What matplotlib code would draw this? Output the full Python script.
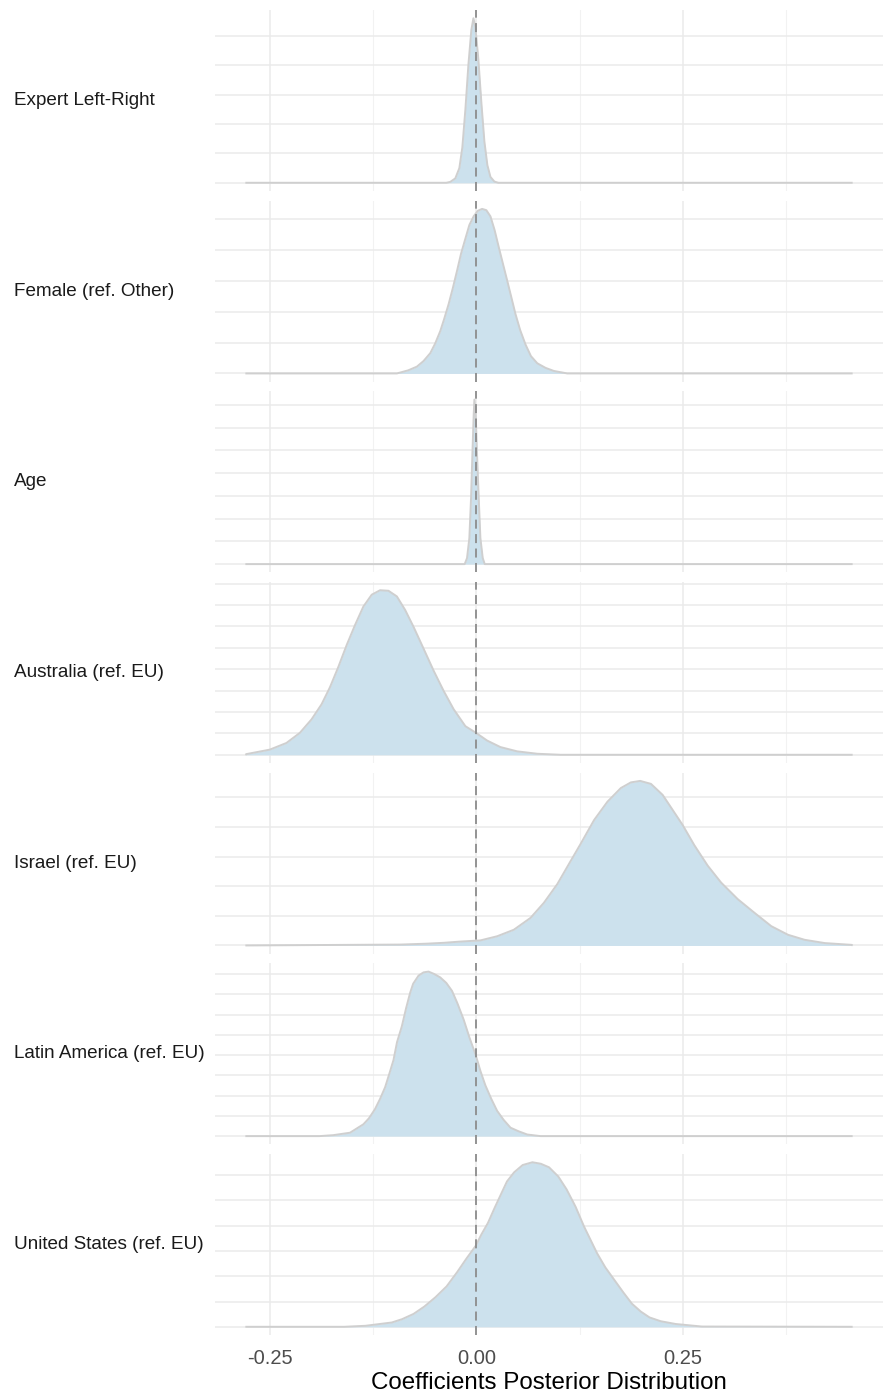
import matplotlib
matplotlib.use("Agg")
import matplotlib.pyplot as plt
from matplotlib.ticker import MultipleLocator

plt.rcParams['font.family'] = ['Liberation Sans', 'DejaVu Sans']

# coefficient names, top to bottom
labels = ['Expert Left-Right', 'Female (ref. Other)', 'Age', 'Australia (ref. EU)',
          'Israel (ref. EU)', 'Latin America (ref. EU)', 'United States (ref. EU)']

# posterior densities: x values and density heights
expert_x = [-0.0364, -0.0316, -0.0255, -0.0206, -0.0170, -0.0133, -0.0097, -0.0061, -0.0036,
            -0.0012, 0.0024, 0.0061, 0.0097, 0.0133, 0.0170, 0.0218, 0.0267]
expert_y = [0, 0.3, 1.5, 5, 12, 25, 40, 52, 56, 53, 42, 27, 14, 6, 2, 0.4, 0]

female_x = [-0.0962, -0.0825, -0.072, -0.064, -0.0558, -0.05, -0.0437, -0.039, -0.0336,
            -0.0285, -0.0234, -0.0185, -0.0133, -0.0085, -0.0033, 0.0018, 0.0069, 0.012,
            0.017, 0.022, 0.0271, 0.032, 0.0373, 0.0425, 0.0473, 0.053, 0.0595, 0.066,
            0.0737, 0.0837, 0.0938, 0.110]
female_y = [0, 0.25, 0.55, 1.0, 1.64, 2.4, 3.42, 4.4, 5.6, 6.9, 8.3, 9.7, 10.9, 12.0, 12.7,
            13.15, 13.3, 13.2, 12.7, 11.6, 10.2, 8.9, 7.5, 6.1, 4.8, 3.5, 2.33, 1.4, 0.82,
            0.45, 0.2, 0]

age_x = [-0.01416, -0.01133, -0.0085, -0.00647, -0.00485, -0.00324, -0.00243, -0.00081,
         0.00081, 0.00283, 0.00485, 0.00769, 0.0101]
age_y = [0, 5.3, 22.9, 58, 96.3, 131.5, 144.8, 131.5, 96.3, 58, 22.9, 5.3, 0]

australia_x = [-0.2783, -0.25, -0.2298, -0.2136, -0.1994, -0.1873, -0.1772, -0.1671, -0.157,
               -0.1468, -0.1367, -0.1266, -0.1165, -0.1064, -0.0962, -0.0862, -0.0761,
               -0.0639, -0.0518, -0.0397, -0.0275, -0.0133, -0.0004, 0.013, 0.0291, 0.0494,
               0.0737, 0.102]
australia_y = [0.04, 0.30, 0.69, 1.28, 2.07, 2.95, 3.94, 5.12, 6.40, 7.58, 8.66, 9.35, 9.61,
               9.58, 9.25, 8.46, 7.48, 6.20, 4.92, 3.74, 2.66, 1.67, 1.28, 0.83, 0.45, 0.20,
               0.06, 0]

israel_x = [-0.0918, -0.06, -0.039, -0.02, 0.00485, 0.0251, 0.0453, 0.0655, 0.0817, 0.0979,
            0.112, 0.1262, 0.1424, 0.1586, 0.1748, 0.1869, 0.1982, 0.2112, 0.2253, 0.2375,
            0.2496, 0.2637, 0.2799, 0.2961, 0.3163, 0.3365, 0.3568, 0.377, 0.3972, 0.4215,
            0.4539]
israel_y = [0.03, 0.06, 0.09, 0.13, 0.17, 0.31, 0.53, 0.93, 1.44, 2.07, 2.75, 3.43, 4.23,
            4.85, 5.31, 5.50, 5.55, 5.45, 5.08, 4.57, 4.06, 3.38, 2.69, 2.12, 1.56, 1.10,
            0.65, 0.36, 0.19, 0.08, 0.02]

latam_x = [-0.19, -0.1731, -0.1529, -0.1367, -0.13, -0.1226, -0.1165, -0.1104, -0.1056,
           -0.1003, -0.096, -0.0902, -0.085, -0.0801, -0.0765, -0.07, -0.064, -0.0579,
           -0.051, -0.0437, -0.0364, -0.0295, -0.023, -0.0154, -0.0085, -0.0008, 0.005,
           0.0109, 0.018, 0.0251, 0.033, 0.0413, 0.051, 0.0615, 0.0777]
latam_y = [0, 0.06, 0.21, 0.73, 1.1, 1.67, 2.3, 3.02, 3.8, 4.69, 5.8, 6.77, 7.9, 8.85, 9.4,
           9.9, 10.1, 10.15, 10.0, 9.79, 9.45, 8.96, 8.2, 7.19, 6.1, 5.0, 4.0, 3.13, 2.3,
           1.56, 1.0, 0.52, 0.3, 0.1, 0]

us_x = [-0.16, -0.1341, -0.1024, -0.09, -0.076, -0.063, -0.0495, -0.036, -0.0231, -0.012,
        -0.0009, 0.006, 0.014, 0.022, 0.0297, 0.037, 0.0456, 0.056, 0.0678, 0.078, 0.0879,
        0.099, 0.1091, 0.12, 0.1302, 0.146, 0.156, 0.1672, 0.178, 0.1883, 0.199, 0.2095,
        0.223, 0.2412, 0.2729]
us_y = [0, 0.04, 0.17, 0.3, 0.51, 0.8, 1.17, 1.6, 2.17, 2.7, 3.2, 3.65, 4.11, 4.7, 5.24,
        5.75, 6.11, 6.4, 6.51, 6.45, 6.31, 5.95, 5.44, 4.75, 3.97, 2.91, 2.35, 1.84, 1.35,
        0.91, 0.6, 0.37, 0.22, 0.11, 0.01]

xs = [expert_x, female_x, age_x, australia_x, israel_x, latam_x, us_x]
ys = [expert_y, female_y, age_y, australia_y, israel_y, latam_y, us_y]
grid_step = [10, 2.5, 20, 1.25, 1, 1.25, 1]

# full range of the posterior draws (the flat tails of every density)
x_lo, x_hi = -0.2795, 0.4552
pad = 0.05 * (x_hi - x_lo)

W, H = 883, 1395
fig = plt.figure(figsize=(W / 100, H / 100), dpi=100)

left, right = 215, 883
top0, panel_h, pitch = 10, 181, 190.67

for i in range(7):
    x = [x_lo] + list(xs[i]) + [x_hi]
    y = [0] + list(ys[i]) + [0]
    top = top0 + i * pitch
    ax = fig.add_axes([left / W, (H - top - panel_h) / H, (right - left) / W, panel_h / H])
    ax.fill_between(x, y, 0, color='#cce1ed', lw=0, zorder=2)
    ax.plot(x, y, color='#cfcfcf', lw=1.4, zorder=3, solid_capstyle='butt',
            solid_joinstyle='round')
    ax.axvline(0, color='#8c8c8c', lw=1.3, ls=(0, (5, 3)), zorder=4)

    peak = max(y)
    ax.set_ylim(-0.05 * peak, 1.05 * peak)
    ax.set_xlim(x_lo - pad, x_hi + pad)
    ax.yaxis.set_major_locator(MultipleLocator(grid_step[i]))
    ax.xaxis.set_major_locator(MultipleLocator(0.25))
    ax.xaxis.set_minor_locator(MultipleLocator(0.125))
    ax.grid(True, which='major', color='#ebebeb', lw=1.1, zorder=0)
    ax.grid(True, which='minor', axis='x', color='#f2f2f2', lw=0.8, zorder=0)
    ax.set_axisbelow(True)
    for s in ax.spines.values():
        s.set_visible(False)
    ax.tick_params(length=0, labelleft=False, which='both')
    ax.tick_params(axis='x', labelsize=14.5, labelcolor='#4d4d4d', pad=10)
    if i < 6:
        ax.tick_params(labelbottom=False)
    else:
        ax.set_xticks([-0.25, 0, 0.25])
        ax.set_xticklabels(['-0.25', '0.00', '0.25'])
        ax.set_xlabel('Coefficients Posterior Distribution', fontsize=17.4, color='black', labelpad=3)

    fig.text(14 / W, 1 - (top + panel_h / 2) / H, labels[i], fontsize=13.6,
             color='#1a1a1a', ha='left', va='center')

fig.savefig('out.png', dpi=100)
